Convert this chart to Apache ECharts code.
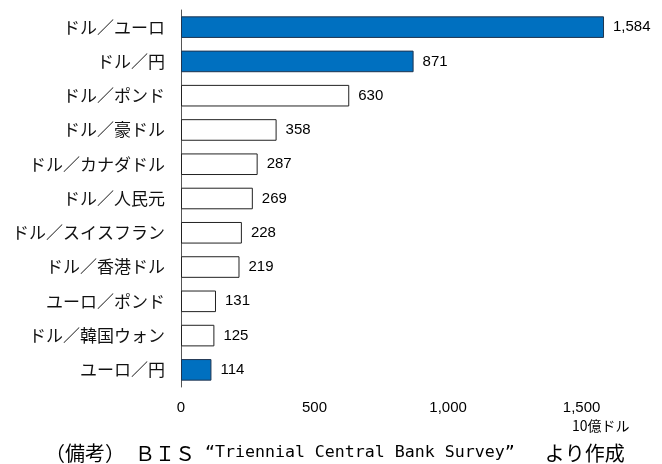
<!DOCTYPE html>
<html>
<head>
<meta charset="utf-8">
<script src="https://cdn.jsdelivr.net/npm/echarts@6/dist/echarts.min.js"></script>
<style>
  html, body { margin: 0; padding: 0; background: #fff; }
  #chart { width: 662px; height: 464px; }
</style>
</head>
<body>
<div id="chart"></div>
<script>
  // 通貨ペア別取引高（10億ドル）
  const pairs = [
    "ドル／ユーロ", "ドル／円", "ドル／ポンド", "ドル／豪ドル", "ドル／カナダドル",
    "ドル／人民元", "ドル／スイスフラン", "ドル／香港ドル", "ユーロ／ポンド",
    "ドル／韓国ウォン", "ユーロ／円"
  ];
  const volumes = [1584, 871, 630, 358, 287, 269, 228, 219, 131, 125, 114];
  const highlighted = ["ドル／ユーロ", "ドル／円", "ユーロ／円"];
  const xTicks = [0, 500, 1000, 1500];

  const numFont = "'Liberation Sans', Arial, sans-serif";
  const jpFont = "'Noto Sans CJK JP', sans-serif";
  const monoFont = "'DejaVu Sans Mono', monospace";
  const myChart = echarts.init(document.getElementById("chart"));

  const option = {
    animation: false,
    grid: { left: 181, top: 10, width: 454, height: 377, containLabel: false },
    xAxis: {
      type: "value",
      min: xTicks[0],
      max: 1700,
      interval: 500,
      axisLine: { show: false },
      axisTick: { show: false },
      splitLine: { show: false },
      axisLabel: {
        showMaxLabel: false,
        margin: 13,
        color: "#000",
        fontSize: 15,
        fontFamily: numFont,
        formatter: (v) => v.toLocaleString("en-US"),
      },
    },
    yAxis: {
      type: "category",
      inverse: true,
      data: pairs,
      axisLine: { show: true, lineStyle: { color: "#555", width: 1 } },
      axisTick: { show: false },
      axisLabel: { margin: 16, color: "#111", fontSize: 17, fontFamily: jpFont },
    },
    series: [
      {
        type: "bar",
        barWidth: "63%",
        data: volumes.map((v, i) => {
          const hi = highlighted.includes(pairs[i]);
          return {
            value: v,
            itemStyle: {
              color: hi ? "#0070C0" : "#fff",
              borderColor: hi ? "#1f3550" : "#222",
              borderWidth: 1,
            },
          };
        }),
        label: {
          show: true,
          position: "right",
          distance: 9,
          color: "#000",
          fontSize: 15,
          fontFamily: numFont,
          formatter: (p) => p.value.toLocaleString("en-US"),
        },
      },
    ],
    graphic: [
      {
        type: "text",
        left: 572,
        top: 419,
        style: { text: "10億ドル", fill: "#000", fontSize: 14, fontFamily: jpFont },
      },
      {
        type: "text",
        left: 45,
        top: 443,
        style: {
          text: "{a|（備考）}{m| }{a|ＢＩＳ}{m| “Triennial Central Bank Survey”   }{a|より作成}",
          fill: "#000",
          rich: {
            a: { fontSize: 20, fontFamily: jpFont, fill: "#000", lineHeight: 22 },
            m: { fontSize: 16.6, fontFamily: monoFont, fill: "#000", lineHeight: 22 },
          },
        },
      },
    ],
  };

  myChart.setOption(option);
</script>
</body>
</html>
